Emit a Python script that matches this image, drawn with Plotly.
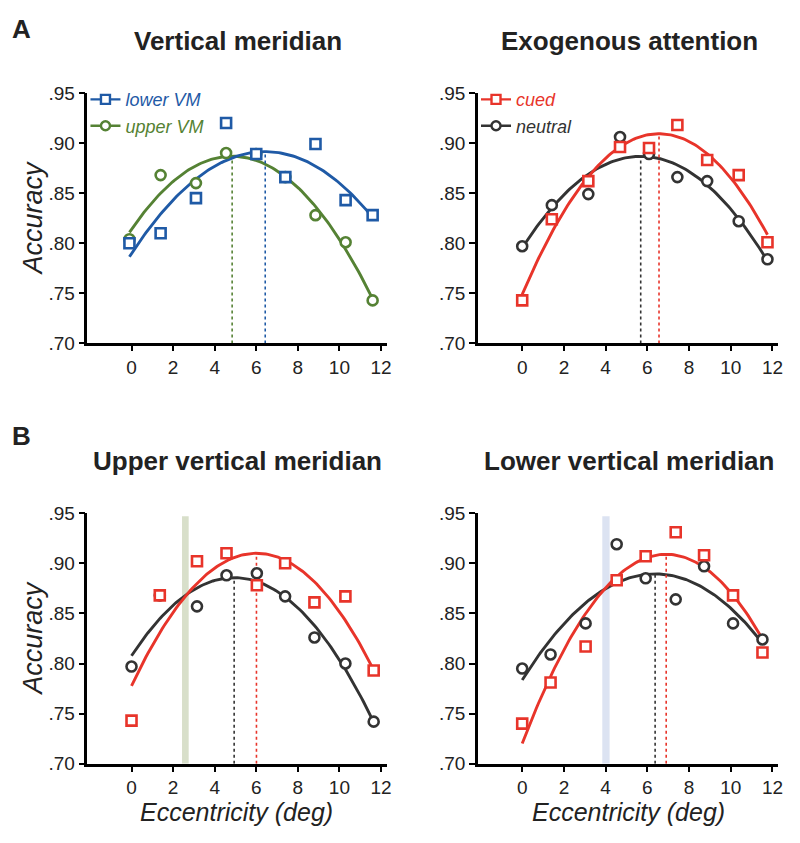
import numpy as np
import plotly.graph_objects as go

# ---------------- data ----------------
# Panel A left: Vertical meridian (neutral trials)
ecc_vm = [-0.1, 1.4, 3.1, 4.55, 6.0, 7.4, 8.85, 10.3, 11.6]
acc_lower_vm = [0.800, 0.810, 0.845, 0.920, 0.889, 0.866, 0.899, 0.843, 0.828]
acc_upper_vm = [0.804, 0.868, 0.860, 0.890, 0.889, 0.866, 0.828, 0.801, 0.743]

# Panel A right: Exogenous attention
ecc_exo = [0.0, 1.42, 3.17, 4.69, 6.08, 7.44, 8.87, 10.38, 11.76]
acc_cued = [0.743, 0.824, 0.862, 0.896, 0.895, 0.918, 0.883, 0.868, 0.801]
acc_neutral = [0.797, 0.838, 0.849, 0.906, 0.889, 0.866, 0.862, 0.822, 0.784]

# Panel B left: Upper vertical meridian
ecc_upper = [0.0, 1.36, 3.15, 4.57, 6.03, 7.39, 8.8, 10.29, 11.65]
acc_upper_cued = [0.743, 0.868, 0.902, 0.910, 0.878, 0.900, 0.861, 0.867, 0.793]
acc_upper_neutral = [0.797, 0.868, 0.857, 0.888, 0.890, 0.867, 0.826, 0.800, 0.742]

# Panel B right: Lower vertical meridian
ecc_lower = [0.0, 1.36, 3.04, 4.53, 5.92, 7.36, 8.72, 10.11, 11.52]
acc_lower_cued = [0.740, 0.781, 0.817, 0.883, 0.907, 0.931, 0.908, 0.868, 0.811]
acc_lower_neutral = [0.795, 0.809, 0.840, 0.919, 0.885, 0.864, 0.897, 0.840, 0.824]

# crossover bands (eccentricity range) and their top
crossover_upper = [2.43, 2.75]
crossover_lower = [3.84, 4.19]
crossover_top = 0.947

# ticks
x_ticks = [0, 2, 4, 6, 8, 10, 12]
y_ticks = [0.70, 0.75, 0.80, 0.85, 0.90, 0.95]
y_ticklabels = [".70", ".75", ".80", ".85", ".90", ".95"]

# ---------------- styles ----------------
BLUE = "#1f5aa6"
GREEN = "#558234"
RED = "#e8342a"
DARK = "#333333"
BAND_GREEN = "#d8dfca"
BAND_BLUE = "#dce3f2"
FONT = "Liberation Sans, Arial, sans-serif"

W, H = 800, 843


def px(x):
    return x / W


def py(y):
    return 1 - y / H


fig = go.Figure()

panels = {
    "A1": ("x", "y"),
    "A2": ("x2", "y2"),
    "B1": ("x3", "y3"),
    "B2": ("x4", "y4"),
}


def add_series(panel, xs, ys, color, symbol):
    xa, ya = panels[panel]
    xs = np.asarray(xs, float)
    ys = np.asarray(ys, float)
    c = np.polyfit(xs, ys, 2)
    xf = np.linspace(xs.min(), xs.max(), 120)
    yf = np.polyval(c, xf)
    vx = -c[1] / (2 * c[0])
    vy = np.polyval(c, vx)
    fig.add_trace(go.Scatter(x=[vx, vx], y=[0.70, vy], mode="lines",
                             line=dict(color=color, width=1.6, dash="dot"),
                             xaxis=xa, yaxis=ya, showlegend=False, hoverinfo="skip"))
    fig.add_trace(go.Scatter(x=xf, y=yf, mode="lines",
                             line=dict(color=color, width=2.9),
                             xaxis=xa, yaxis=ya, showlegend=False, hoverinfo="skip"))
    return dict(x=xs, y=ys, color=color, symbol=symbol, xa=xa, ya=ya)


def add_points(s):
    fig.add_trace(go.Scatter(x=s["x"], y=s["y"], mode="markers",
                             marker=dict(symbol=s["symbol"], size=10, color="white",
                                         line=dict(color=s["color"], width=2.6)),
                             xaxis=s["xa"], yaxis=s["ya"], showlegend=False,
                             cliponaxis=False))


s_up = add_series("A1", ecc_vm, acc_upper_vm, GREEN, "circle")
s_lo = add_series("A1", ecc_vm, acc_lower_vm, BLUE, "square")
add_points(s_up)
add_points(s_lo)

s_n = add_series("A2", ecc_exo, acc_neutral, DARK, "circle")
s_c = add_series("A2", ecc_exo, acc_cued, RED, "square")
add_points(s_n)
add_points(s_c)

s_n = add_series("B1", ecc_upper, acc_upper_neutral, DARK, "circle")
s_c = add_series("B1", ecc_upper, acc_upper_cued, RED, "square")
add_points(s_n)
add_points(s_c)

s_n = add_series("B2", ecc_lower, acc_lower_neutral, DARK, "circle")
s_c = add_series("B2", ecc_lower, acc_lower_cued, RED, "square")
add_points(s_n)
add_points(s_c)


def legend_entry(name, color, symbol, legend):
    fig.add_trace(go.Scatter(
        x=[None], y=[None], mode="lines+markers",
        name=f"<span style='color:{color}'>{name}</span>",
        line=dict(color=color, width=2.4),
        marker=dict(symbol=symbol, size=9, color="white", line=dict(color=color, width=2.4)),
        legend=legend, showlegend=True))


legend_entry("lower VM", BLUE, "square", "legend")
legend_entry("upper VM", GREEN, "circle", "legend")
legend_entry("cued", RED, "square", "legend2")
legend_entry("neutral", DARK, "circle", "legend2")

fig.add_shape(type="rect", xref="x3", yref="y3", x0=crossover_upper[0], x1=crossover_upper[1],
              y0=0.70, y1=crossover_top, fillcolor=BAND_GREEN, line=dict(width=0), layer="below")
fig.add_shape(type="rect", xref="x4", yref="y4", x0=crossover_lower[0], x1=crossover_lower[1],
              y0=0.70, y1=crossover_top, fillcolor=BAND_BLUE, line=dict(width=0), layer="below")

xdomL = [px(88), px(389)]
xdomR = [px(481), px(783)]
ydomA = [py(342), py(85)]
ydomB = [py(773), py(516)]

xcommon = dict(range=[-2.12, 12.27], tickvals=x_ticks, ticks="outside", ticklen=5, tickwidth=2.2,
               tickcolor="black", showline=True, linewidth=2.6, linecolor="black",
               showgrid=False, zeroline=False,
               tickfont=dict(family=FONT, size=19, color="#222222"), fixedrange=True)
ycommon = dict(range=[0.70, 0.95], tickvals=y_ticks, ticktext=y_ticklabels, ticks="outside",
               ticklen=6, tickwidth=2.2, tickcolor="black", showline=True, linewidth=2.6,
               linecolor="black", showgrid=False, zeroline=False,
               tickfont=dict(family=FONT, size=19, color="#222222"), fixedrange=True)

fig.update_layout(
    xaxis=dict(domain=xdomL, anchor="y", **xcommon),
    yaxis=dict(domain=ydomA, anchor="x", **ycommon),
    xaxis2=dict(domain=xdomR, anchor="y2", **xcommon),
    yaxis2=dict(domain=ydomA, anchor="x2", **ycommon),
    xaxis3=dict(domain=xdomL, anchor="y3", **xcommon),
    yaxis3=dict(domain=ydomB, anchor="x3", **ycommon),
    xaxis4=dict(domain=xdomR, anchor="y4", **xcommon),
    yaxis4=dict(domain=ydomB, anchor="x4", **ycommon),
)

legend_style = dict(font=dict(family=FONT, size=18, style="italic"), bgcolor="rgba(0,0,0,0)",
                    xanchor="left", yanchor="top", itemwidth=30, tracegroupgap=0,
                    borderwidth=0)
fig.update_layout(
    legend=dict(x=px(86), y=py(73), **legend_style),
    legend2=dict(x=px(479), y=py(73), **legend_style),
)

annotations = []


def ann(text, x, y, size, bold=False, italic=False, color="#222222", angle=0, xref="paper", yref="paper"):
    annotations.append(dict(text=text, x=x, y=y, xref=xref, yref=yref, showarrow=False,
                            xanchor="center", yanchor="middle", textangle=angle,
                            font=dict(family=FONT, size=size, color=color,
                                      weight="bold" if bold else "normal",
                                      style="italic" if italic else "normal")))


ann("A", px(22), py(19), 26, bold=True)
ann("B", px(22), py(437), 26, bold=True)
ann("Vertical meridian", px(239), py(32), 26, bold=True)
ann("Exogenous attention", px(633), py(32), 26, bold=True)
ann("Upper vertical meridian", px(239), py(463), 26, bold=True)
ann("Lower vertical meridian", px(633), py(463), 26, bold=True)
ann("Accuracy", px(33), py(213), 27, italic=True, angle=-90)
ann("Accuracy", px(33), py(644), 27, italic=True, angle=-90)
ann("Eccentricity (deg)", px(238), py(822), 25, italic=True)
ann("Eccentricity (deg)", px(632), py(822), 25, italic=True)
ann("crossover", 2.6, 0.9568, 16, italic=True, color="#5b8a3c", xref="x3", yref="y3")
ann("crossover", 3.95, 0.9568, 16, italic=True, color="#2a5aa5", xref="x4", yref="y4")

fig.update_layout(
    annotations=annotations,
    width=W, height=H,
    margin=dict(l=0, r=0, t=0, b=0),
    paper_bgcolor="white", plot_bgcolor="white",
    font=dict(family=FONT, color="#222222"),
    hovermode=False,
)

fig.write_html("out.html", config={"displayModeBar": False},
               post_script="document.body.style.margin='0';document.body.style.padding='0';")
